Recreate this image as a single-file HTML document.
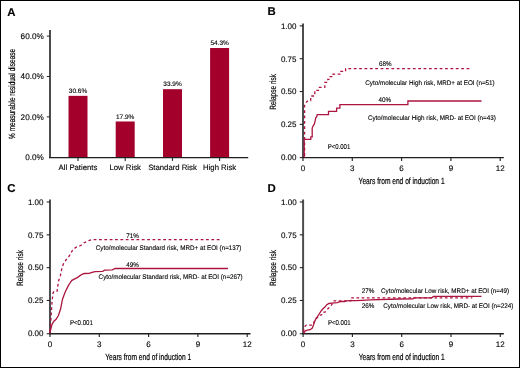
<!DOCTYPE html>
<html><head><meta charset="utf-8"><style>
html,body{margin:0;padding:0;background:#fff;}
.fig{position:relative;width:518px;height:366px;border:1px solid #000;overflow:hidden;background:#fff;}
svg{position:absolute;left:-1px;top:-1px;font-family:"Liberation Sans", sans-serif;text-rendering:geometricPrecision;}
</style></head><body><div class="fig">
<svg width="520" height="368" viewBox="0 0 520 368">
<line x1="50" y1="30" x2="50" y2="157.6" stroke="#4d4d4d" stroke-width="2"/>
<line x1="49" y1="157.6" x2="248.2" y2="157.6" stroke="#1e1e1e" stroke-width="1.3"/>
<line x1="46.8" y1="116.9" x2="50" y2="116.9" stroke="#262626" stroke-width="1"/>
<line x1="46.8" y1="76.5" x2="50" y2="76.5" stroke="#262626" stroke-width="1"/>
<line x1="46.8" y1="36.1" x2="50" y2="36.1" stroke="#262626" stroke-width="1"/>
<rect x="68.5" y="95.85" width="19" height="61.15" fill="#a3002b"/>
<line x1="78" y1="157.6" x2="78" y2="160.9" stroke="#262626" stroke-width="1.1"/>
<rect x="115.7" y="121.48" width="19" height="35.52" fill="#a3002b"/>
<line x1="125.2" y1="157.6" x2="125.2" y2="160.9" stroke="#262626" stroke-width="1.1"/>
<rect x="163" y="89.19" width="19" height="67.81" fill="#a3002b"/>
<line x1="172.5" y1="157.6" x2="172.5" y2="160.9" stroke="#262626" stroke-width="1.1"/>
<rect x="210.1" y="48.02" width="19" height="108.98" fill="#a3002b"/>
<line x1="219.6" y1="157.6" x2="219.6" y2="160.9" stroke="#262626" stroke-width="1.1"/>
<line x1="303" y1="23.38" x2="303" y2="157.6" stroke="#4d4d4d" stroke-width="2"/>
<line x1="302" y1="157.6" x2="503.8" y2="157.6" stroke="#1e1e1e" stroke-width="1.3"/>
<line x1="299.7" y1="157.6" x2="303" y2="157.6" stroke="#262626" stroke-width="1.1"/>
<line x1="299.7" y1="124.37" x2="303" y2="124.37" stroke="#262626" stroke-width="1.1"/>
<line x1="299.7" y1="91.54" x2="303" y2="91.54" stroke="#262626" stroke-width="1.1"/>
<line x1="299.7" y1="58.71" x2="303" y2="58.71" stroke="#262626" stroke-width="1.1"/>
<line x1="299.7" y1="25.88" x2="303" y2="25.88" stroke="#262626" stroke-width="1.1"/>
<line x1="303" y1="157.6" x2="303" y2="160.9" stroke="#262626" stroke-width="1.15"/>
<line x1="352.3" y1="157.6" x2="352.3" y2="160.9" stroke="#262626" stroke-width="1.15"/>
<line x1="401.6" y1="157.6" x2="401.6" y2="160.9" stroke="#262626" stroke-width="1.15"/>
<line x1="450.9" y1="157.6" x2="450.9" y2="160.9" stroke="#262626" stroke-width="1.15"/>
<line x1="500.2" y1="157.6" x2="500.2" y2="160.9" stroke="#262626" stroke-width="1.15"/>
<path d="M304.6,157.3 V104.5 L306.8,101.7 L308.1,100.6 H310.7 V96 H314.8 V90.3 H319.4 V87.4 H324.8 V82.3 H327.8 V79.3 H330.2 V76.7 H333.1 V74.1 H340.8 V71.4 H345.6 V68.7 H470.4" fill="none" stroke="#ad1440" stroke-width="1.3" stroke-dasharray="2.8 2.57" stroke-dashoffset="3.99"/>
<path d="M304.2,157.3 V139.3 H310.8 V136.9 H312.2 V128.1 L313.3,125.6 L314.3,124.2 L315.2,120.7 L315.7,117.8 L316.7,116.8 L317.2,114.7 H328.5 V111.4 H336.6 V108.1 H339.9 V104.6 H407.9 V101 H481.5" fill="none" stroke="#ad1440" stroke-width="1.3"/>
<line x1="50" y1="199.48" x2="50" y2="333.75" stroke="#4d4d4d" stroke-width="2"/>
<line x1="49" y1="333.75" x2="250.5" y2="333.75" stroke="#1e1e1e" stroke-width="1.5"/>
<line x1="46.7" y1="333.75" x2="50" y2="333.75" stroke="#262626" stroke-width="1.1"/>
<line x1="46.7" y1="300.47" x2="50" y2="300.47" stroke="#262626" stroke-width="1.1"/>
<line x1="46.7" y1="267.64" x2="50" y2="267.64" stroke="#262626" stroke-width="1.1"/>
<line x1="46.7" y1="234.81" x2="50" y2="234.81" stroke="#262626" stroke-width="1.1"/>
<line x1="46.7" y1="201.98" x2="50" y2="201.98" stroke="#262626" stroke-width="1.1"/>
<line x1="50" y1="333.75" x2="50" y2="337.05" stroke="#262626" stroke-width="1.15"/>
<line x1="99.3" y1="333.75" x2="99.3" y2="337.05" stroke="#262626" stroke-width="1.15"/>
<line x1="148.6" y1="333.75" x2="148.6" y2="337.05" stroke="#262626" stroke-width="1.15"/>
<line x1="197.9" y1="333.75" x2="197.9" y2="337.05" stroke="#262626" stroke-width="1.15"/>
<line x1="247.2" y1="333.75" x2="247.2" y2="337.05" stroke="#262626" stroke-width="1.15"/>
<path d="M49.8,333.5 L50,330.4 L51,318.3 L52,302.2 L53,293.2 L54,291.2 L57.1,291.2 L58.5,281.1 L60.3,276 L62.1,267.3 L63.8,263 L66.4,259.5 L69,256.4 L71.2,252.5 L73,249.5 L76,247.3 L79.5,246 L82.1,244.7 L83.8,243 L86.4,241.7 L89.5,240.3 L92.5,239.7 H219.5" fill="none" stroke="#ad1440" stroke-width="1.3" stroke-dasharray="2.8 2.55" stroke-dashoffset="3.15"/>
<path d="M49.8,333.5 L50,332.4 L52,324.4 L53.6,321.4 L56.1,319.3 L58.5,315.3 L60.5,309.3 L62.5,299.2 L65.1,292.2 L68.1,286.1 L70,283 L71.9,280.3 L74.8,278.8 L77.7,277.4 L79.6,275.9 L82.5,274 L84.4,273.5 L89.2,273.3 L92.1,272.4 L95,271.6 L102.7,271.3 L104.6,270.2 L112.3,269.9 L115.2,268.5 H228" fill="none" stroke="#ad1440" stroke-width="1.3"/>
<line x1="303.1" y1="199.48" x2="303.1" y2="333.75" stroke="#4d4d4d" stroke-width="2"/>
<line x1="302.1" y1="333.75" x2="503.8" y2="333.75" stroke="#1e1e1e" stroke-width="1.5"/>
<line x1="299.8" y1="333.75" x2="303.1" y2="333.75" stroke="#262626" stroke-width="1.1"/>
<line x1="299.8" y1="300.47" x2="303.1" y2="300.47" stroke="#262626" stroke-width="1.1"/>
<line x1="299.8" y1="267.64" x2="303.1" y2="267.64" stroke="#262626" stroke-width="1.1"/>
<line x1="299.8" y1="234.81" x2="303.1" y2="234.81" stroke="#262626" stroke-width="1.1"/>
<line x1="299.8" y1="201.98" x2="303.1" y2="201.98" stroke="#262626" stroke-width="1.1"/>
<line x1="303.1" y1="333.75" x2="303.1" y2="337.05" stroke="#262626" stroke-width="1.15"/>
<line x1="352.4" y1="333.75" x2="352.4" y2="337.05" stroke="#262626" stroke-width="1.15"/>
<line x1="401.7" y1="333.75" x2="401.7" y2="337.05" stroke="#262626" stroke-width="1.15"/>
<line x1="451" y1="333.75" x2="451" y2="337.05" stroke="#262626" stroke-width="1.15"/>
<line x1="500.3" y1="333.75" x2="500.3" y2="337.05" stroke="#262626" stroke-width="1.15"/>
<path d="M303.6,333.5 L303.6,328.6 L305.3,325.9 L306.3,325.1 L312,325.1 L312.9,324.3 L314.5,321 L316.1,318.3 L318.3,317.2 L319.4,315.6 L322.1,314.5 L323.2,312.3 L325.4,311.8 L327,309.6 L328.2,308.5 L330.8,306.2 L332.5,303.5 L334,300.9 H350.8 V297.8 H472.3" fill="none" stroke="#ad1440" stroke-width="1.3" stroke-dasharray="2.7 2.5" stroke-dashoffset="3.32"/>
<path d="M303.6,333.3 L305.3,330.8 L307.4,330.2 L310.2,329.7 L312.3,328.1 L313.4,325.3 L314.5,322.1 L315.6,319.4 L317.2,317.2 L318.8,314.5 L321,311.2 L323.2,308.5 L325.4,306.6 L326.5,305 L328.9,303.5 L331.8,303.2 L334.7,302.9 L337.5,302.6 L339.3,301.8 L341,301.5 L344.5,301.5 L346.2,300.9 L350.2,300.6 L356,300.6 L362,300.3 L370,299.8 L400,299 L413,298.8 L414,297.8 H431.8 L433.5,296.4 H481.5" fill="none" stroke="#ad1440" stroke-width="1.3"/>
<g style="filter:grayscale(1)" stroke="#000" stroke-width="0.12">
<text x="7.2" y="15.5" font-size="11.4" font-weight="bold" fill="#000">A</text>
<text x="43.8" y="160.05" font-size="8.2" text-anchor="end" fill="#000">0.0%</text>
<text x="43.8" y="119.65" font-size="8.2" text-anchor="end" fill="#000">20.0%</text>
<text x="43.8" y="79.25" font-size="8.2" text-anchor="end" fill="#000">40.0%</text>
<text x="43.8" y="38.85" font-size="8.2" text-anchor="end" fill="#000">60.0%</text>
<text x="78" y="92.9" font-size="6.5" text-anchor="middle" fill="#000">30.6%</text>
<text x="78" y="170.4" font-size="7.75" text-anchor="middle" fill="#000">All Patients</text>
<text x="125.2" y="118.53" font-size="6.5" text-anchor="middle" fill="#000">17.9%</text>
<text x="125.2" y="170.4" font-size="7.75" text-anchor="middle" fill="#000">Low Risk</text>
<text x="172.5" y="86.24" font-size="6.5" text-anchor="middle" fill="#000">33.9%</text>
<text x="172.5" y="170.4" font-size="7.75" text-anchor="middle" fill="#000">Standard Risk</text>
<text x="219.6" y="45.07" font-size="6.5" text-anchor="middle" fill="#000">54.3%</text>
<text x="219.6" y="170.4" font-size="7.75" text-anchor="middle" fill="#000">High Risk</text>
<text transform="translate(14.6,93.9) rotate(-90)" font-size="9" text-anchor="middle" textLength="90" lengthAdjust="spacingAndGlyphs" fill="#000" stroke="#000" stroke-width="0.2">% measurable residual disease</text>
<text x="267.5" y="15.4" font-size="11.4" font-weight="bold" fill="#000">B</text>
<text x="296.5" y="160.05" font-size="8" text-anchor="end" fill="#000">0.00</text>
<text x="296.5" y="127.22" font-size="8" text-anchor="end" fill="#000">0.25</text>
<text x="296.5" y="94.39" font-size="8" text-anchor="end" fill="#000">0.50</text>
<text x="296.5" y="61.56" font-size="8" text-anchor="end" fill="#000">0.75</text>
<text x="296.5" y="28.73" font-size="8" text-anchor="end" fill="#000">1.00</text>
<text x="303" y="171" font-size="8" text-anchor="middle" fill="#000">0</text>
<text x="352.3" y="171" font-size="8" text-anchor="middle" fill="#000">3</text>
<text x="401.6" y="171" font-size="8" text-anchor="middle" fill="#000">6</text>
<text x="450.9" y="171" font-size="8" text-anchor="middle" fill="#000">9</text>
<text x="500.2" y="171" font-size="8" text-anchor="middle" fill="#000">12</text>
<text x="401.6" y="183.9" font-size="9.1" text-anchor="middle" textLength="86" lengthAdjust="spacingAndGlyphs" fill="#000" stroke="#000" stroke-width="0.2">Years from end of induction 1</text>
<text transform="translate(275.7,91.9) rotate(-90)" font-size="9" text-anchor="middle" textLength="35.8" lengthAdjust="spacingAndGlyphs" fill="#000" stroke="#000" stroke-width="0.2">Relapse risk</text>
<text x="378.9" y="66.1" font-size="6.7" text-anchor="start" textLength="12.61" lengthAdjust="spacingAndGlyphs" fill="#000">68%</text>
<text x="365.2" y="85.3" font-size="6.7" text-anchor="start" textLength="129.54" lengthAdjust="spacingAndGlyphs" fill="#000">Cyto/molecular High risk, MRD+ at EOI (n=51)</text>
<text x="378.5" y="102.2" font-size="6.7" text-anchor="start" textLength="12.61" lengthAdjust="spacingAndGlyphs" fill="#000">40%</text>
<text x="367.9" y="119.7" font-size="6.7" text-anchor="start" textLength="127.96" lengthAdjust="spacingAndGlyphs" fill="#000">Cyto/molecular High risk, MRD- at EOI (n=43)</text>
<text x="327.7" y="149.2" font-size="7.0" text-anchor="start" textLength="22.6" lengthAdjust="spacingAndGlyphs" fill="#000">P&lt;0.001</text>
<text x="7.2" y="191.5" font-size="11.4" font-weight="bold" fill="#000">C</text>
<text x="43.5" y="336.15" font-size="8" text-anchor="end" fill="#000">0.00</text>
<text x="43.5" y="303.32" font-size="8" text-anchor="end" fill="#000">0.25</text>
<text x="43.5" y="270.49" font-size="8" text-anchor="end" fill="#000">0.50</text>
<text x="43.5" y="237.66" font-size="8" text-anchor="end" fill="#000">0.75</text>
<text x="43.5" y="204.83" font-size="8" text-anchor="end" fill="#000">1.00</text>
<text x="50" y="347.1" font-size="8" text-anchor="middle" fill="#000">0</text>
<text x="99.3" y="347.1" font-size="8" text-anchor="middle" fill="#000">3</text>
<text x="148.6" y="347.1" font-size="8" text-anchor="middle" fill="#000">6</text>
<text x="197.9" y="347.1" font-size="8" text-anchor="middle" fill="#000">9</text>
<text x="247.2" y="347.1" font-size="8" text-anchor="middle" fill="#000">12</text>
<text x="148.2" y="360" font-size="9.1" text-anchor="middle" textLength="86" lengthAdjust="spacingAndGlyphs" fill="#000" stroke="#000" stroke-width="0.2">Years from end of induction 1</text>
<text transform="translate(22.7,268) rotate(-90)" font-size="9" text-anchor="middle" textLength="35.8" lengthAdjust="spacingAndGlyphs" fill="#000" stroke="#000" stroke-width="0.2">Relapse risk</text>
<text x="126.2" y="237.6" font-size="6.7" text-anchor="start" textLength="12.61" lengthAdjust="spacingAndGlyphs" fill="#000">71%</text>
<text x="95.8" y="249.8" font-size="6.7" text-anchor="start" textLength="145.66" lengthAdjust="spacingAndGlyphs" fill="#000">Cyto/molecular Standard risk, MRD+ at EOI (n=137)</text>
<text x="126.2" y="266.8" font-size="6.7" text-anchor="start" textLength="12.61" lengthAdjust="spacingAndGlyphs" fill="#000">49%</text>
<text x="98.6" y="278.5" font-size="6.7" text-anchor="start" textLength="144.07" lengthAdjust="spacingAndGlyphs" fill="#000">Cyto/molecular Standard risk, MRD- at EOI (n=267)</text>
<text x="69.9" y="325.1" font-size="7.0" text-anchor="start" textLength="23" lengthAdjust="spacingAndGlyphs" fill="#000">P&lt;0.001</text>
<text x="267.5" y="191.5" font-size="11.4" font-weight="bold" fill="#000">D</text>
<text x="296.6" y="336.15" font-size="8" text-anchor="end" fill="#000">0.00</text>
<text x="296.6" y="303.32" font-size="8" text-anchor="end" fill="#000">0.25</text>
<text x="296.6" y="270.49" font-size="8" text-anchor="end" fill="#000">0.50</text>
<text x="296.6" y="237.66" font-size="8" text-anchor="end" fill="#000">0.75</text>
<text x="296.6" y="204.83" font-size="8" text-anchor="end" fill="#000">1.00</text>
<text x="303.1" y="347.1" font-size="8" text-anchor="middle" fill="#000">0</text>
<text x="352.4" y="347.1" font-size="8" text-anchor="middle" fill="#000">3</text>
<text x="401.7" y="347.1" font-size="8" text-anchor="middle" fill="#000">6</text>
<text x="451" y="347.1" font-size="8" text-anchor="middle" fill="#000">9</text>
<text x="500.3" y="347.1" font-size="8" text-anchor="middle" fill="#000">12</text>
<text x="401.7" y="360" font-size="9.1" text-anchor="middle" textLength="86" lengthAdjust="spacingAndGlyphs" fill="#000" stroke="#000" stroke-width="0.2">Years from end of induction 1</text>
<text transform="translate(275.8,268) rotate(-90)" font-size="9" text-anchor="middle" textLength="35.8" lengthAdjust="spacingAndGlyphs" fill="#000" stroke="#000" stroke-width="0.2">Relapse risk</text>
<text x="361.7" y="292.8" font-size="6.7" text-anchor="start" textLength="12.61" lengthAdjust="spacingAndGlyphs" fill="#000">27%</text>
<text x="381" y="292.8" font-size="6.7" text-anchor="start" textLength="128.14" lengthAdjust="spacingAndGlyphs" fill="#000">Cyto/molecular Low risk, MRD+ at EOI (n=49)</text>
<text x="361.7" y="308.0" font-size="6.7" text-anchor="start" textLength="12.61" lengthAdjust="spacingAndGlyphs" fill="#000">26%</text>
<text x="383.3" y="308.0" font-size="6.7" text-anchor="start" textLength="130.06" lengthAdjust="spacingAndGlyphs" fill="#000">Cyto/molecular Low risk, MRD- at EOI (n=224)</text>
<text x="327.9" y="325.4" font-size="7.0" text-anchor="start" textLength="22.8" lengthAdjust="spacingAndGlyphs" fill="#000">P&lt;0.001</text>
</g>
</svg></div></body></html>
